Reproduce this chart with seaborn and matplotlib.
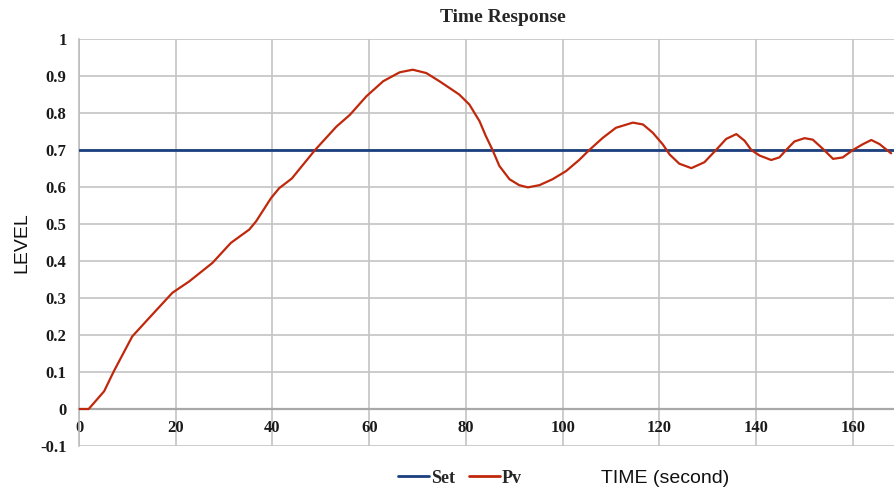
import numpy as np
import pandas as pd
import seaborn as sns
import matplotlib.pyplot as plt
from matplotlib.ticker import FuncFormatter

# values
time = [0, 2, 5.2, 7.2, 11, 14.5, 19.3, 22.8, 27.6, 31.4, 35.2, 36.6, 39.7, 41.4,
        44, 48.8, 53.2, 56, 59.4, 62.9, 66.3, 69, 71.8, 74.5, 76.9, 78.6, 80.7,
        82.8, 84.1, 85.5, 86.9, 89, 91, 92.8, 95.2, 97.9, 100.7, 103.4, 105.5,
        108.3, 111, 114.5, 116.6, 118.6, 120.7, 122.1, 124.1, 126.6, 129.3, 131.7,
        133.8, 135.9, 137.6, 139, 140.7, 143.1, 144.8, 146.2, 147.9, 150, 151.7,
        153.8, 155.9, 157.9, 160, 162.1, 163.8, 165.5, 167.9]
pv = [0, 0, 0.048, 0.102, 0.196, 0.246, 0.314, 0.345, 0.395, 0.449, 0.485, 0.507,
      0.570, 0.597, 0.623, 0.70, 0.763, 0.795, 0.845, 0.886, 0.91, 0.917, 0.908,
      0.886, 0.865, 0.85, 0.823, 0.778, 0.738, 0.70, 0.657, 0.621, 0.605, 0.599,
      0.605, 0.621, 0.643, 0.673, 0.70, 0.733, 0.76, 0.774, 0.769, 0.747, 0.715,
      0.688, 0.663, 0.651, 0.667, 0.70, 0.73, 0.743, 0.725, 0.70, 0.685, 0.673,
      0.68, 0.70, 0.723, 0.732, 0.728, 0.703, 0.676, 0.68, 0.70, 0.716, 0.727,
      0.716, 0.691]
set_time = [0, 170]
set_level = [0.7, 0.7]

x_ticks = [0, 20, 40, 60, 80, 100, 120, 140, 160]
y_ticks = [-0.1, 0, 0.1, 0.2, 0.3, 0.4, 0.5, 0.6, 0.7, 0.8, 0.9, 1.0]

df = pd.concat([
    pd.DataFrame({"time": set_time, "level": set_level, "series": "Set"}),
    pd.DataFrame({"time": time, "level": pv, "series": "Pv"}),
])

sns.set_style("white")
plt.rcParams['font.family'] = ['Liberation Serif', 'DejaVu Serif']

fig = plt.figure(figsize=(8.95, 4.9), dpi=100)
ax = fig.add_axes([79/895, 1-446/490, 1-79/895, (446-39)/490])

sns.lineplot(data=df, x="time", y="level", hue="series", sort=False,
             palette={"Set": "#1b3f7e", "Pv": "#c0280c"}, ax=ax, legend=True)
for line in ax.lines:
    line.set_zorder(3)
    line.set_solid_joinstyle("round")
    line.set_solid_capstyle("round")
    if np.allclose(line.get_ydata(), 0.7):
        line.set_linewidth(2.0)
    else:
        line.set_linewidth(1.6)

ax.set_xlim(0, 168.7)
ax.set_ylim(-0.1, 1.0)
ax.set_xticks(x_ticks)
ax.set_yticks(y_ticks)
ax.yaxis.set_major_formatter(FuncFormatter(lambda v, p: f"{v:g}" if abs(v) > 1e-9 else "0"))
ax.grid(True, color="#c4c4c4", linewidth=1.2)
ax.set_axisbelow(True)

for s in ["top", "right"]:
    ax.spines[s].set_visible(False)
ax.spines["left"].set_color("#bdbdbd")
ax.spines["left"].set_linewidth(1.2)
ax.spines["bottom"].set_position(("data", 0))
ax.spines["bottom"].set_color("#a8a8a8")
ax.spines["bottom"].set_linewidth(1.6)

ax.tick_params(axis="x", length=0, pad=8)
ax.tick_params(axis="y", length=0, pad=9)
for lab in ax.get_xticklabels() + ax.get_yticklabels():
    lab.set_fontweight("bold")
    lab.set_fontsize(12)
    lab.set_color("#1a1a1a")

ax.set_xlabel("")
ax.set_ylabel("")
fig.text(22/895, 1-243/490, "LEVEL", rotation=90, ha="center", va="center",
         fontsize=14, family="Liberation Sans", color="#111111")
fig.text(665/895, 1-478/490, "TIME (second)", ha="center", va="center",
         fontsize=14, family="Liberation Sans", color="#111111")
fig.text(503/895, 1-17/490, "Time Response", ha="center", va="center",
         fontsize=14, fontweight="bold")

handles, labels = ax.get_legend_handles_labels()
for h in handles:
    h.set_linewidth(2.0)
ax.legend(handles, labels, loc="center", bbox_to_anchor=(460/895, 1-478/490),
          bbox_transform=fig.transFigure, ncol=2, frameon=False,
          handlelength=1.7, handletextpad=0.1, columnspacing=0.8,
          prop={"family": "Liberation Serif", "weight": "bold", "size": 13})

fig.savefig("out.png", dpi=100)
